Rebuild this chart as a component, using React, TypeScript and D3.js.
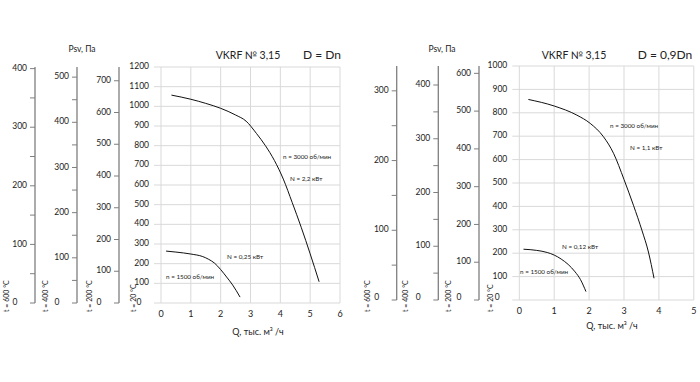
import React from "react";
import * as d3 from "d3";

// ---------- data ----------
const sideTemps = [600, 400, 200];
const qTicksLeft = [0, 1, 2, 3, 4, 5, 6];
const qTicksRight = [0, 1, 2, 3, 4, 5];
const pTicksLeft = [0, 100, 200, 300, 400, 500, 600, 700, 800, 900, 1000, 1100, 1200];
const pTicksRight = [0, 100, 200, 300, 400, 500, 600, 700, 800, 900, 1000];

// left chart, D = Dn
const left3000Q = [0.35, 1.0, 1.5, 2.0, 2.5, 2.85, 3.2, 3.5, 3.8, 4.1, 4.4, 4.7, 5.0, 5.3];
const left3000P = [1057, 1036, 1015, 990, 956, 925, 862, 800, 725, 630, 510, 385, 250, 108];
const left1500Q = [0.17, 0.5, 1.0, 1.4, 1.6, 1.8, 2.0, 2.2, 2.4, 2.65];
const left1500P = [264, 259, 249, 236, 222, 202, 170, 132, 92, 30];

// right chart, D = 0,9Dn
const right3000Q = [0.26, 1.0, 1.65, 2.03, 2.41, 2.7, 3.0, 3.27, 3.52, 3.7, 3.86];
const right3000P = [857, 829, 790, 755, 698, 627, 515, 405, 295, 205, 93];
const right1500Q = [0.12, 0.5, 0.8, 1.0, 1.2, 1.4, 1.6, 1.75, 1.91];
const right1500P = [217, 212, 203, 192, 175, 152, 120, 88, 36];

const FONT = "Lato, 'Open Sans', sans-serif";

type Note = { text: string; x: number; y: number };

type PanelProps = {
  x0: number; x1: number; yTop: number; yBot: number;
  qMax: number; pMax: number;
  qTicks: number[]; pTicks: number[];
  sideX: number[]; tLabelX: number[]; mainTX: number;
  psvX: number; titleX: number; dX: number; dText: string;
  zeroY: number;
  curves: { q: number[]; p: number[] }[];
  notes: Note[];
  qLabelX: number; qTickY: number; qLabelY: number;
};

function Panel(props: PanelProps) {
  const { x0, x1, yTop, yBot, qMax, pMax, qTicks, pTicks, sideX, tLabelX, mainTX } = props;
  const x = d3.scaleLinear().domain([0, qMax]).range([x0, x1]);
  const y = d3.scaleLinear().domain([0, pMax]).range([yBot, yTop]);
  const line = d3.line<[number, number]>()
    .x((d) => x(d[0]))
    .y((d) => y(d[1]))
    .curve(d3.curveMonotoneX);

  const sideAxes = sideTemps.map((t, i) => {
    const max = (pMax * 293) / (273 + t);
    const s = d3.scaleLinear().domain([0, max]).range([yBot, yTop]);
    const majors = d3.range(0, max + 1e-6, 100);
    const minors = i < 2 ? d3.range(50, max, 100) : [];
    const lx = sideX[i];
    return (
      <g key={t}>
        <line x1={lx} x2={lx} y1={yTop} y2={yBot} stroke="#7f7f7f" strokeWidth={1.3} />
        {majors.map((v) => (
          <g key={v}>
            <line x1={lx - 5} x2={lx} y1={s(v)} y2={s(v)} stroke="#7f7f7f" strokeWidth={1} />
            {v === 0 ? (
              <text x={lx - 20} y={props.zeroY} textAnchor="middle" dominantBaseline="middle" fontSize={8.5} fill="#222">0</text>
            ) : (
              <text x={lx - 8} y={s(v)} textAnchor="end" dominantBaseline="middle" fontSize={8.5} fill="#222">{v}</text>
            )}
          </g>
        ))}
        {minors.map((v) => (
          <line key={"m" + v} x1={lx - 5} x2={lx} y1={s(v)} y2={s(v)} stroke="#7f7f7f" strokeWidth={1} />
        ))}
        <text transform={`translate(${tLabelX[i]},312) rotate(-90)`} fontSize={7} fill="#222">{`t = ${t} °C`}</text>
      </g>
    );
  });

  return (
    <g fontFamily={FONT}>
      {/* grid */}
      {pTicks.map((v) => (
        <line key={"h" + v} x1={x0 - 7} x2={x1} y1={y(v)} y2={y(v)} stroke="#d9d9d9" strokeWidth={1} />
      ))}
      {qTicks.map((v) => (
        <line key={"v" + v} x1={x(v)} x2={x(v)} y1={yTop} y2={yBot} stroke="#d9d9d9" strokeWidth={1} />
      ))}
      {/* main y labels */}
      {pTicks.map((v) =>
        v === 0 ? (
          <text key={"l" + v} x={x0 - 22} y={props.zeroY} textAnchor="middle" dominantBaseline="middle" fontSize={8.5} fill="#222">0</text>
        ) : (
          <text key={"l" + v} x={x0 - 12} y={y(v)} textAnchor="end" dominantBaseline="middle" fontSize={8.5} fill="#222">{v}</text>
        )
      )}
      <text transform={`translate(${mainTX},312) rotate(-90)`} fontSize={7} fill="#222">t = 20 °C</text>
      {/* x labels */}
      {qTicks.map((v) => (
        <text key={"q" + v} x={x(v)} y={props.qTickY} textAnchor="middle" dominantBaseline="middle" fontSize={9} fill="#222">{v}</text>
      ))}
      <text x={props.qLabelX} y={props.qLabelY} textAnchor="middle" dominantBaseline="middle" fontSize={9} fill="#222">Q, тыс. м³ /ч</text>
      {sideAxes}
      <text x={props.psvX} y={50} textAnchor="middle" dominantBaseline="middle" fontSize={8.5} fill="#222">Psv, Па</text>
      <text x={props.titleX} y={56} textAnchor="middle" dominantBaseline="middle" fontSize={10.5} fill="#222">VKRF № 3,15</text>
      <text x={props.dX} y={56} textAnchor="middle" dominantBaseline="middle" fontSize={12} fill="#222">{props.dText}</text>
      {/* curves */}
      {props.curves.map((c, i) => (
        <path key={i} d={line(c.q.map((q, j) => [q, c.p[j]] as [number, number])) || ""} fill="none" stroke="#111" strokeWidth={1} />
      ))}
      {props.notes.map((n, i) => (
        <text key={i} x={n.x} y={n.y} dominantBaseline="middle" fontSize={6.3} fill="#222">{n.text}</text>
      ))}
    </g>
  );
}

export default function App() {
  return (
    <svg width={700} height={382} viewBox="0 0 700 382" style={{ position: "absolute", left: 0, top: 0, background: "#fff" }}>
      <rect width={700} height={382} fill="#fff" />
      <Panel
        x0={161} x1={340} yTop={67} yBot={303} qMax={6} pMax={1200}
        qTicks={qTicksLeft} pTicks={pTicksLeft}
        sideX={[35, 77, 119]} tLabelX={[8.5, 48, 92]} mainTX={135.5}
        psvX={82} titleX={248} dX={322} dText="D = Dn" zeroY={303}
        curves={[{ q: left3000Q, p: left3000P }, { q: left1500Q, p: left1500P }]}
        notes={[
          { text: "n = 3000 об/мин", x: 283, y: 157 },
          { text: "N = 2,2 кВт", x: 290, y: 179 },
          { text: "N = 0,25 кВт", x: 227, y: 257 },
          { text: "n = 1500 об/мин", x: 166, y: 277 },
        ]}
        qLabelX={258} qTickY={315} qLabelY={333}
      />
      <Panel
        x0={519.3} x1={693.8} yTop={66} yBot={300} qMax={5} pMax={1000}
        qTicks={qTicksRight} pTicks={pTicksRight}
        sideX={[396.7, 438.3, 479]} tLabelX={[369.5, 407.5, 451]} mainTX={493}
        psvX={442} titleX={574} dX={665} dText="D = 0,9Dn" zeroY={298}
        curves={[{ q: right3000Q, p: right3000P }, { q: right1500Q, p: right1500P }]}
        notes={[
          { text: "n = 3000 об/мин", x: 610, y: 126 },
          { text: "N = 1,1 кВт", x: 630, y: 148 },
          { text: "N = 0,12 кВт", x: 562, y: 247 },
          { text: "n = 1500 об/мин", x: 520, y: 272 },
        ]}
        qLabelX={612} qTickY={312} qLabelY={327}
      />
    </svg>
  );
}
